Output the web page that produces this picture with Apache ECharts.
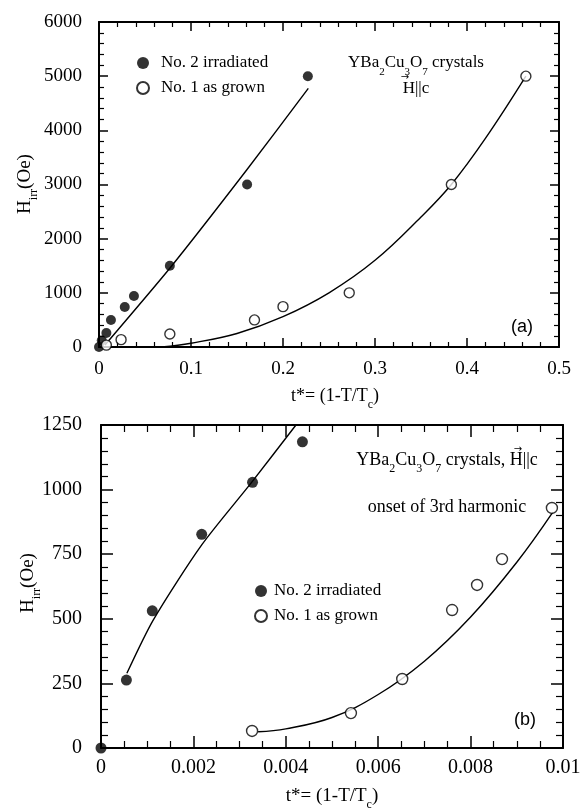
<!DOCTYPE html>
<html><head><meta charset="utf-8">
<script src="https://cdn.jsdelivr.net/npm/echarts@6/dist/echarts.min.js"></script>
<style>html,body{margin:0;padding:0;background:#fff}#c{width:584px;height:812px}</style>
</head><body><div id="c"></div>
<script>
// ---------- Panel (a) data ----------
const aIrrT   = [0, 0.003, 0.008, 0.013, 0.028, 0.038, 0.077, 0.161, 0.227];
const aIrrH   = [0, 120, 260, 500, 740, 940, 1500, 3000, 5000];
const aGrownT = [0.008, 0.024, 0.077, 0.169, 0.2, 0.272, 0.383, 0.464];
const aGrownH = [35, 136, 240, 500, 745, 1000, 3000, 5000];
const aIrrFitT   = [0.0065, 0.0783, 0.1605, 0.2275];
const aIrrFitH   = [37, 1482, 3267, 4775];
const aGrownFitT = [0.068, 0.1, 0.15, 0.2, 0.25, 0.3, 0.35, 0.383, 0.42, 0.464];
const aGrownFitH = [0, 70, 250, 560, 1000, 1600, 2400, 3000, 3850, 5000];
// ---------- Panel (b) data ----------
const bIrrT   = [0, 0.00055, 0.00111, 0.00218, 0.00328, 0.00436];
const bIrrH   = [0, 263, 531, 827, 1028, 1185];
const bGrownT = [0.00327, 0.00541, 0.00652, 0.0076, 0.00814, 0.00868, 0.00976];
const bGrownH = [66, 135, 267, 534, 631, 731, 929];
const bIrrFitT   = [0.00056, 0.00113, 0.00218, 0.00326, 0.00422];
const bIrrFitH   = [289, 495, 786, 1028, 1250];
const bGrownFitT = [0.0034, 0.004, 0.005, 0.006, 0.007, 0.008, 0.009, 0.00978];
const bGrownFitH = [63, 74, 118, 207, 336, 507, 719, 913];
// ---------- axes ----------
const aXTicks = [0, 0.5, 0.1];
const aYTicks = [0, 6000, 1000];
const bXTicks = [0, 0.01, 0.002];
const bYTicks = [0, 1250, 250];
const legendNames = ['No. 2 irradiated', 'No. 1 as grown'];

const F = 'Liberation Serif';
const pairs = (xs, ys) => xs.map((x, i) => [x, ys[i]]);

function axis(gridIndex, ticks, position, showLabel, tickLen, minorLen, margin, minorSplit, fontSize) {
  return {
    type: 'value', gridIndex, position,
    min: ticks[0], max: ticks[1], interval: ticks[2],
    axisLine: { show: true, onZero: false, lineStyle: { color: '#000', width: 2 } },
    axisTick: { show: true, inside: true, length: tickLen, lineStyle: { color: '#000', width: 1.5 } },
    minorTick: { show: true, splitNumber: minorSplit, length: minorLen, lineStyle: { color: '#000', width: 1.2 } },
    splitLine: { show: false }, minorSplitLine: { show: false },
    axisLabel: { show: showLabel, fontFamily: F, fontSize: fontSize, color: '#000', margin: margin,
      formatter: v => String(+v.toFixed(4)) }
  };
}

const dotStyle = { color: '#000' };
const ringStyle = { color: '#fff', borderColor: '#000', borderWidth: 1.4 };
const fitLine = { color: '#000', width: 1.4 };

const option = {
  animation: false,
  backgroundColor: '#fff',
  grid: [
    { left: 99, top: 22, width: 460, height: 325 },
    { left: 101, top: 425, width: 462, height: 323 }
  ],
  xAxis: [
    axis(0, aXTicks, 'bottom', true, 9, 5, 13, 5, 19),
    axis(0, aXTicks, 'top', false, 9, 5, 13, 5, 19),
    axis(1, bXTicks, 'bottom', true, 12, 7, 10, 4, 20),
    axis(1, bXTicks, 'top', false, 12, 7, 10, 4, 20)
  ],
  yAxis: [
    axis(0, aYTicks, 'left', true, 9, 5, 17, 5, 19),
    axis(0, aYTicks, 'right', false, 9, 5, 17, 5, 19),
    axis(1, bYTicks, 'left', true, 12, 7, 19, 5, 20),
    axis(1, bYTicks, 'right', false, 12, 7, 19, 5, 20)
  ],
  legend: [
    { left: 131, top: 48, orient: 'vertical', itemWidth: 12, itemHeight: 12, itemGap: 5, selectedMode: false,
      data: legendNames.map(n => ({ name: n, icon: 'circle' })),
      textStyle: { fontFamily: F, fontSize: 17, color: '#000', lineHeight: 20, padding: [0, 0, 0, 7] } },
    { left: 249, top: 576, orient: 'vertical', itemWidth: 12, itemHeight: 12, itemGap: 5, selectedMode: false,
      data: legendNames.map(n => ({ name: n, icon: 'circle' })),
      textStyle: { fontFamily: F, fontSize: 17, color: '#000', lineHeight: 20, padding: [0, 0, 0, 2] } }
  ],
  series: [
    { type: 'line', name: 'fit a irr', xAxisIndex: 0, yAxisIndex: 0, data: pairs(aIrrFitT, aIrrFitH),
      smooth: 0.2, symbol: 'none', lineStyle: fitLine, silent: true, z: 2 },
    { type: 'line', name: 'fit a grown', xAxisIndex: 0, yAxisIndex: 0, data: pairs(aGrownFitT, aGrownFitH),
      smooth: 0.4, symbol: 'none', lineStyle: fitLine, silent: true, z: 2 },
    { type: 'scatter', name: legendNames[0], xAxisIndex: 0, yAxisIndex: 0, data: pairs(aIrrT, aIrrH),
      symbolSize: 10, itemStyle: dotStyle, clip: false, z: 3 },
    { type: 'scatter', name: legendNames[1], xAxisIndex: 0, yAxisIndex: 0, data: pairs(aGrownT, aGrownH),
      symbolSize: 10, itemStyle: ringStyle, clip: false, z: 3 },
    { type: 'line', name: 'fit b irr', xAxisIndex: 2, yAxisIndex: 2, data: pairs(bIrrFitT, bIrrFitH),
      smooth: 0.25, symbol: 'none', lineStyle: fitLine, silent: true, z: 2 },
    { type: 'line', name: 'fit b grown', xAxisIndex: 2, yAxisIndex: 2, data: pairs(bGrownFitT, bGrownFitH),
      smooth: 0.4, symbol: 'none', lineStyle: fitLine, silent: true, z: 2 },
    { type: 'scatter', name: legendNames[0], xAxisIndex: 2, yAxisIndex: 2, data: pairs(bIrrT, bIrrH),
      symbolSize: 11, itemStyle: dotStyle, clip: false, z: 3 },
    { type: 'scatter', name: legendNames[1], xAxisIndex: 2, yAxisIndex: 2, data: pairs(bGrownT, bGrownH),
      symbolSize: 11, itemStyle: ringStyle, clip: false, z: 3 }
  ],
  graphic: []
};

function rt(x, y, text, rot, size, subSize) {
  const rich = {
    n: { fontFamily: F, fontSize: size || 18, color: '#000', lineHeight: 24, verticalAlign: 'middle' },
    s: { fontFamily: F, fontSize: subSize || 12, color: '#000', lineHeight: 12, verticalAlign: 'bottom', padding: [0, 0, -3, 0] }
  };
  return { type: 'text', x, y, rotation: rot || 0, z: 10,
    style: { text, rich, align: 'center', verticalAlign: 'middle', fill: '#000' } };
}
function plain(x, y, text, size, family) {
  return { type: 'text', x, y, z: 10,
    style: { text, fontFamily: family || F, fontSize: size, fill: '#000', align: 'center', verticalAlign: 'middle' } };
}

option.graphic = [
  // axis titles
  rt(25, 184, '{n|H}{s|irr}{n|(Oe)}', Math.PI / 2, 19, 12),
  rt(28, 583, '{n|H}{s|irr}{n|(Oe)}', Math.PI / 2, 19, 12),
  rt(335, 396, '{n|t*= (1-T/T}{s|c}{n|)}', 0, 18, 12),
  rt(332, 796, '{n|t*= (1-T/T}{s|c}{n|)}', 0, 19, 12),
  // panel a annotation
  rt(416, 63, '{n|YBa}{s|2}{n|Cu}{s|3}{n|O}{s|7}{n| crystals}', 0, 17, 11),
  rt(416, 89, '{n|H||c}', 0, 17, 11),
  plain(405, 77, '→', 10, 'DejaVu Sans'),
  plain(522, 327, '(a)', 18, 'Liberation Sans'),
  // panel b annotation
  rt(447, 460, '{n|YBa}{s|2}{n|Cu}{s|3}{n|O}{s|7}{n| crystals, H||c}', 0, 18, 12),
  plain(518, 449, '→', 10, 'DejaVu Sans'),
  rt(447, 507, '{n|onset of 3rd harmonic}', 0, 18, 12),
  plain(525, 720, '(b)', 18, 'Liberation Sans')
];

const chart = echarts.init(document.getElementById('c'));
chart.setOption(option);
</script></body></html>
